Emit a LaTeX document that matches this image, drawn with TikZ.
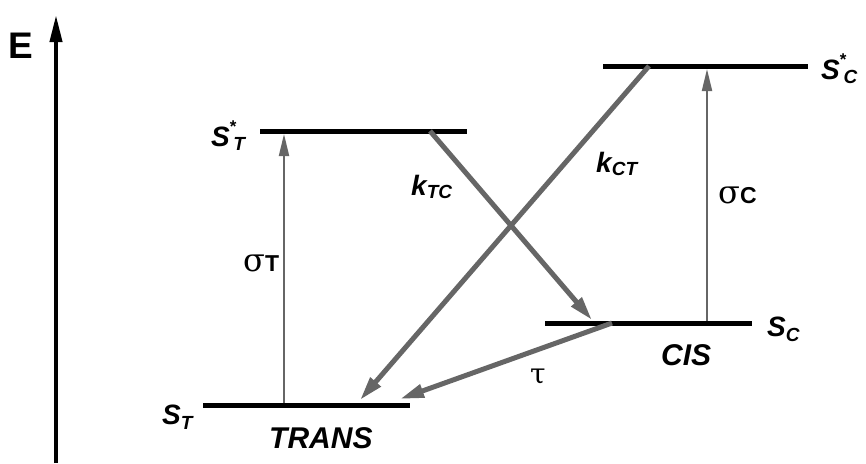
\documentclass[tikz,border=0pt]{standalone}
\usepackage{fontspec}
\setmainfont{Liberation Sans}
\newfontfamily\greekfont{DejaVu Serif}
\usetikzlibrary{arrows.meta}
\definecolor{trgray}{RGB}{102,102,102}
% state labels: big italic letter, optional star, small italic index
\newcommand{\stname}[1]{{\fontsize{28}{32}\selectfont\bfseries\itshape S}\raisebox{-5pt}{\fontsize{19}{22}\selectfont\bfseries\itshape #1}}
\newcommand{\ststar}[1]{{\fontsize{28}{32}\selectfont\bfseries\itshape S}\raisebox{14pt}{\fontsize{17}{19}\selectfont\bfseries *}\kern-3pt\raisebox{-4pt}{\fontsize{19}{22}\selectfont\bfseries\itshape #1}}
\newcommand{\rate}[1]{{\fontsize{28}{32}\selectfont\bfseries\itshape k}\raisebox{-3pt}{\fontsize{19}{22}\selectfont\bfseries\itshape #1}}
\newcommand{\xsec}[1]{{\greekfont\fontsize{32}{36}\selectfont\char"03C3}{\fontsize{23}{26}\selectfont\bfseries #1}}

\begin{document}
\begin{tikzpicture}[x=1pt, y=-1pt,
  level/.style={line width=5pt, black},
  thinarr/.style={-{Triangle[length=22pt, width=10pt]}, line width=2pt, trgray},
  thickarr/.style={-{Triangle[length=24pt, width=13pt]}, line width=5pt, trgray},
  axis/.style={-{Triangle[length=27pt, width=12pt]}, line width=4pt, black},
  lab/.style={anchor=base west, inner sep=0pt}]
\useasboundingbox (0,0) rectangle (866,463);
% energy axis
\coordinate (e0) at (56,463);
\coordinate (e1) at (56,15);
\draw[axis] (e0) -- (e1);
\node[anchor=base, inner sep=0pt, font=\fontsize{37}{40}\selectfont\bfseries] (elab) at (21,58) {E};
% levels
\coordinate (sTa) at (203,405); \coordinate (sTb) at (410,405);
\coordinate (sTsa) at (260,131); \coordinate (sTsb) at (467,131);
\coordinate (sCa) at (545,323); \coordinate (sCb) at (752,323);
\coordinate (sCsa) at (603,66); \coordinate (sCsb) at (808,66);
\draw[level] (sTa) -- (sTb);
\draw[level] (sTsa) -- (sTsb);
\draw[level] (sCa) -- (sCb);
\draw[level] (sCsa) -- (sCsb);
% transitions
\coordinate (sigTa) at (284,403); \coordinate (sigTb) at (284,134);
\coordinate (sigCa) at (707,321); \coordinate (sigCb) at (707,69);
\coordinate (kTCa) at (430,131); \coordinate (kTCb) at (592,320);
\coordinate (kCTa) at (649,66); \coordinate (kCTb) at (360,400);
\coordinate (taua) at (612,323); \coordinate (taub) at (400,399);
\draw[thinarr] (sigTa) -- (sigTb);
\draw[thinarr] (sigCa) -- (sigCb);
\draw[thickarr] (kTCa) -- (kTCb);
\draw[thickarr] (kCTa) -- (kCTb);
\draw[thickarr] (taua) -- (taub);
% labels
\node[lab] (lSTs) at (211,146) {\ststar{T}};
\node[lab] (lST) at (162,424) {\stname{T}};
\node[lab] (lSCs) at (821,79) {\ststar{C}};
\node[lab] (lSC) at (767,336) {\stname{C}};
\node[lab, font=\fontsize{30}{34}\selectfont\bfseries\itshape] (ltrans) at (269,448) {TRANS};
\node[lab, font=\fontsize{30}{34}\selectfont\bfseries\itshape] (lcis) at (661,365) {CIS};
\node[lab] (lkTC) at (411,195) {\rate{TC}};
\node[lab] (lkCT) at (596,172) {\rate{CT}};
\node[lab] (lsigT) at (243,271) {\xsec{T}};
\node[lab] (lsigC) at (718,203) {\xsec{C}};
\node[lab, font=\greekfont\fontsize{28}{32}\selectfont] (ltau) at (530,383) {\char"03C4};
\end{tikzpicture}
\end{document}
